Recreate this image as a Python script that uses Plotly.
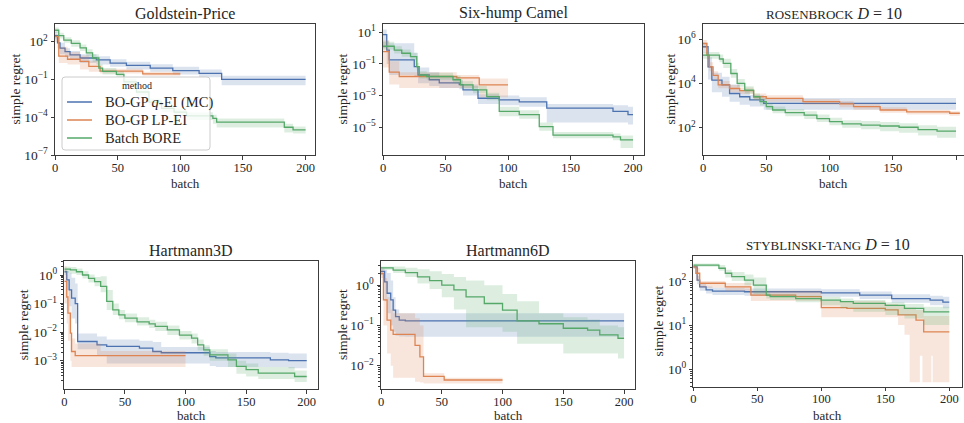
import plotly.graph_objects as go

# ---------------- data (step breakpoints) ----------------
# Goldstein-Price
gp_qei_x = [0, 2, 4, 8, 12, 20, 33, 44, 57, 76, 94, 115, 133, 200]
gp_qei_y = [3e2, 8e1, 3e1, 1.6e1, 9, 5, 3.6, 2, 1.3, 0.8, 0.5, 0.3, 0.1, 0.1]
gp_qei_lo = [1.5e2, 3e1, 1e1, 6, 4, 2, 1.5, 1, 0.6, 0.4, 0.25, 0.15, 0.035, 0.035]
gp_qei_hi = [6e2, 2e2, 8e1, 3e1, 1.8e1, 1e1, 7, 4, 2.5, 1.6, 1, 0.6, 0.2, 0.2]
gp_lpei_x = [0, 3, 10, 20, 27, 36, 70, 100]
gp_lpei_y = [2.5e2, 7, 4, 2.7, 1.1, 0.45, 0.28, 0.28]
gp_lpei_lo = [1e2, 2, 1.5, 0.6, 0.4, 0.3, 0.2, 0.2]
gp_lpei_hi = [4e2, 4e1, 1.5e1, 8, 3, 0.7, 0.4, 0.4]
gp_bore_x = [0, 3, 7, 13, 20, 25, 30, 35, 38, 49, 55, 65, 75, 85, 95, 105, 126, 129, 183, 190, 200]
gp_bore_y = [8e2, 3e2, 1.3e2, 7.4e1, 3.2e1, 1.3e1, 5, 0.8, 0.44, 0.25, 0.063, 0.01, 1.6e-3, 5e-4, 2.5e-4, 1.3e-4, 8e-5, 4e-5, 1.6e-5, 1e-5, 1e-5]
gp_bore_lo = [5e2, 1.8e2, 8e1, 4e1, 1.8e1, 7, 2.5, 0.4, 0.25, 0.14, 0.03, 5e-3, 8e-4, 2.5e-4, 1.3e-4, 6e-5, 3e-5, 1.5e-5, 6e-6, 5e-6, 5e-6]
gp_bore_hi = [1.3e3, 5e2, 2.2e2, 1.3e2, 6e1, 2.5e1, 1e1, 1.6, 0.8, 0.45, 0.12, 0.02, 3e-3, 1e-3, 5e-4, 2.5e-4, 1.6e-4, 8e-5, 3e-5, 1.8e-5, 1.8e-5]

# Six-hump Camel
sc_qei_x = [0, 3, 5, 25, 28, 37, 45, 61, 64, 76, 93, 109, 131, 184, 196, 200]
sc_qei_y = [7, 0.75, 0.18, 0.068, 0.02, 0.01, 6.3e-3, 5e-3, 2.3e-3, 6.8e-4, 5.4e-4, 4e-4, 1.6e-4, 1e-4, 6.3e-5, 6.3e-5]
sc_qei_lo = [1, 0.1, 0.02, 0.015, 6e-3, 4e-3, 3e-3, 2.5e-3, 1e-3, 3e-4, 2.5e-4, 2e-4, 2e-5, 2e-5, 1.5e-5, 1.5e-5]
sc_qei_hi = [1.5e1, 3, 2, 0.5, 0.06, 0.03, 0.015, 0.01, 5e-3, 1.2e-3, 1e-3, 8e-4, 3e-4, 2.5e-4, 2e-4, 2e-4]
sc_lpei_x = [0, 5, 13, 59, 77, 100]
sc_lpei_y = [0.6, 0.03, 0.016, 0.013, 4.7e-3, 4.7e-3]
sc_lpei_lo = [0.06, 5e-3, 3e-3, 3e-3, 8e-4, 8e-4]
sc_lpei_hi = [3, 0.15, 0.03, 0.02, 0.012, 0.012]
sc_bore_x = [0, 9, 15, 22, 27, 29, 35, 56, 62, 72, 83, 93, 109, 125, 136, 184, 190, 200]
sc_bore_y = [1.3, 0.75, 0.47, 0.29, 0.068, 0.02, 0.016, 0.01, 4.7e-3, 2.3e-3, 8.7e-4, 1e-4, 6.3e-5, 1.1e-5, 3.2e-6, 2.5e-6, 1.6e-6, 1.6e-6]
sc_bore_lo = [0.8, 0.45, 0.28, 0.17, 0.04, 0.012, 0.01, 6e-3, 2.8e-3, 1.4e-3, 5e-4, 5e-5, 3.5e-5, 6e-6, 2e-6, 1.5e-6, 5e-7, 4e-7]
sc_bore_hi = [2.5, 1.3, 0.8, 0.5, 0.12, 0.035, 0.028, 0.018, 8e-3, 4e-3, 1.5e-3, 2e-4, 1.2e-4, 2e-5, 5e-6, 4e-6, 3e-6, 3e-6]

# Rosenbrock D=10
rb_qei_x = [0, 4, 7, 15, 21, 29, 37, 48, 200]
rb_qei_y = [4.5e5, 5.6e4, 1.4e4, 8.5e3, 3.5e3, 2.5e3, 1.8e3, 1.26e3, 1.26e3]
rb_qei_lo = [2.5e5, 1.5e4, 4e3, 2.5e3, 1.5e3, 1.1e3, 9e2, 6.5e2, 6.5e2]
rb_qei_hi = [7e5, 1.5e5, 3e4, 2e4, 9e3, 5e3, 3e3, 2.2e3, 2.2e3]
rb_lpei_x = [0, 3, 5, 8, 12, 21, 29, 40, 50, 79, 108, 119, 140, 161, 195, 203]
rb_lpei_y = [6.3e5, 1.9e5, 5.6e4, 2.3e4, 8.5e3, 5.9e3, 4.7e3, 2.5e3, 2.1e3, 1.5e3, 1.2e3, 9e2, 6.3e2, 5.2e2, 4.5e2, 4.5e2]
rb_lpei_lo = [4e5, 1.2e5, 3.5e4, 1.5e4, 6e3, 4e3, 3.3e3, 1.8e3, 1.5e3, 1.1e3, 8.5e2, 6.5e2, 4.7e2, 4e2, 3.5e2, 3.5e2]
rb_lpei_hi = [9e5, 3e5, 9e4, 3.5e4, 1.3e4, 8.5e3, 6.5e3, 3.5e3, 2.9e3, 2e3, 1.6e3, 1.2e3, 8.5e2, 6.5e2, 5.5e2, 5.5e2]
rb_bore_x = [0, 13, 16, 22, 27, 33, 40, 45, 50, 55, 65, 80, 90, 100, 110, 125, 140, 155, 170, 185, 200]
rb_bore_y = [1.9e5, 1.26e5, 8e4, 2.8e4, 1e4, 5e3, 2.5e3, 1.5e3, 9e2, 6.3e2, 4.8e2, 3.7e2, 2.6e2, 1.9e2, 1.5e2, 1.3e2, 1.2e2, 1.05e2, 8.3e1, 7e1, 7e1]
rb_bore_lo = [1.3e5, 9e4, 5e4, 1.8e4, 7e3, 3.5e3, 1.8e3, 1e3, 6.5e2, 4.5e2, 3.3e2, 2.5e2, 1.8e2, 1.3e2, 1e2, 8.5e1, 7e1, 6e1, 4.5e1, 3.5e1, 3e1]
rb_bore_hi = [2.6e5, 2e5, 1.3e5, 4.5e4, 1.6e4, 7.5e3, 3.5e3, 2.2e3, 1.3e3, 9e2, 7e2, 5.5e2, 4e2, 2.8e2, 2.2e2, 2e2, 1.8e2, 1.6e2, 1.3e2, 1.1e2, 1.1e2]

# Hartmann3D
h3_qei_x = [0, 2, 4, 6, 9, 11, 27, 35, 62, 73, 80, 120, 125, 170, 185, 200]
h3_qei_y = [1.3, 0.68, 0.3, 0.155, 0.1, 4.7e-3, 3.6e-3, 3.2e-3, 2.75e-3, 2.1e-3, 1.9e-3, 1.4e-3, 1.26e-3, 1.07e-3, 1e-3, 1e-3]
h3_qei_lo = [1, 0.3, 0.08, 0.03, 0.02, 2.5e-3, 1.5e-3, 8e-4, 8e-4, 8e-4, 8e-4, 6.5e-4, 6e-4, 6e-4, 5.5e-4, 5.5e-4]
h3_qei_hi = [1.6, 1.4, 1.2, 0.8, 0.5, 9e-3, 7e-3, 5.5e-3, 5e-3, 4.5e-3, 3e-3, 2.2e-3, 2e-3, 1.9e-3, 1.8e-3, 1.8e-3]
h3_lpei_x = [0, 2, 3, 5, 6, 9, 30, 100]
h3_lpei_y = [0.6, 0.17, 0.046, 9.3e-3, 2.1e-3, 1.5e-3, 1.5e-3, 1.5e-3]
h3_lpei_lo = [0.1, 0.02, 5e-3, 1e-3, 6e-4, 6e-4, 6e-4, 6e-4]
h3_lpei_hi = [2, 1, 0.3, 0.05, 6e-3, 4e-3, 2.2e-3, 2.2e-3]
h3_bore_x = [0, 5, 10, 15, 20, 25, 30, 35, 40, 45, 50, 60, 70, 75, 85, 95, 105, 110, 115, 120, 135, 142, 150, 160, 190, 200]
h3_bore_y = [1.6, 1.5, 1.3, 1.0, 0.76, 0.59, 0.4, 0.12, 0.06, 0.04, 0.031, 0.023, 0.0195, 0.016, 0.012, 7.9e-3, 6.2e-3, 3.6e-3, 2.4e-3, 1.6e-3, 1.07e-3, 6.3e-4, 4.9e-4, 3.7e-4, 2.8e-4, 2.8e-4]
h3_bore_lo = [1.2, 1.1, 1.0, 0.75, 0.55, 0.4, 0.25, 0.06, 0.04, 0.028, 0.022, 0.017, 0.014, 0.011, 8e-3, 5.5e-3, 4e-3, 2.3e-3, 1.5e-3, 1e-3, 6e-4, 3.5e-4, 2.8e-4, 2.3e-4, 1.8e-4, 1.6e-4]
h3_bore_hi = [2, 1.9, 1.7, 1.35, 1.05, 0.85, 0.9, 0.3, 0.1, 0.06, 0.045, 0.033, 0.027, 0.023, 0.017, 0.011, 9e-3, 5.5e-3, 3.5e-3, 2.5e-3, 1.8e-3, 1e-3, 8e-4, 6e-4, 4.5e-4, 4.5e-4]

# Hartmann6D
h6_qei_x = [0, 3, 5, 8, 10, 12, 15, 20, 200]
h6_qei_y = [2.2, 1.2, 0.63, 0.43, 0.24, 0.166, 0.135, 0.129, 0.129]
h6_qei_lo = [1.8, 0.4, 0.2, 0.1, 0.07, 0.055, 0.053, 0.052, 0.052]
h6_qei_hi = [2.6, 2.4, 2, 1.3, 0.5, 0.25, 0.2, 0.2, 0.2]
h6_lpei_x = [0, 2, 5, 8, 10, 28, 32, 35, 52, 100]
h6_lpei_y = [1.95, 0.43, 0.135, 0.076, 0.06, 0.032, 0.0166, 5.4e-3, 4.4e-3, 4.4e-3]
h6_lpei_lo = [1.5, 0.1, 0.02, 0.01, 5e-3, 4e-3, 3.8e-3, 3.6e-3, 3.6e-3, 3.6e-3]
h6_lpei_hi = [2.5, 1.5, 0.5, 0.25, 0.2, 0.15, 0.1, 6.5e-3, 5e-3, 5e-3]
h6_bore_x = [0, 10, 20, 30, 40, 50, 60, 70, 85, 100, 112, 130, 150, 170, 180, 195, 200]
h6_bore_y = [2.7, 2.35, 2.05, 1.6, 1.3, 1.0, 0.76, 0.51, 0.35, 0.24, 0.13, 0.11, 0.085, 0.076, 0.058, 0.048, 0.048]
h6_bore_lo = [2.4, 2.0, 1.6, 1.1, 0.8, 0.5, 0.25, 0.09, 0.09, 0.07, 0.035, 0.035, 0.02, 0.02, 0.02, 0.015, 0.015]
h6_bore_hi = [2.9, 2.9, 2.7, 2.5, 2.2, 1.9, 1.6, 1.3, 1.0, 0.6, 0.4, 0.2, 0.16, 0.14, 0.1, 0.09, 0.09]

# Styblinski-Tang D=10
st_qei_x = [0, 3, 5, 10, 15, 40, 100, 130, 155, 185, 195, 200]
st_qei_y = [2.1e2, 1.05e2, 7.4e1, 6.3e1, 5.9e1, 5.7e1, 5.4e1, 4.8e1, 4e1, 3.7e1, 3.3e1, 3.3e1]
st_qei_lo = [1.9e2, 8.5e1, 6e1, 5.2e1, 4.8e1, 4.6e1, 4.4e1, 3.9e1, 3.2e1, 2.8e1, 2.4e1, 2.4e1]
st_qei_hi = [2.3e2, 1.3e2, 9e1, 7.5e1, 7e1, 6.8e1, 6.5e1, 5.8e1, 5e1, 4.6e1, 4.4e1, 4.4e1]
st_lpei_x = [0, 2, 5, 25, 45, 80, 100, 120, 150, 160, 165, 169, 174, 177, 179, 180, 186, 187, 200]
st_lpei_y = [2.1e2, 1.5e2, 8.9e1, 7.4e1, 4.8e1, 4.4e1, 2.5e1, 2.4e1, 2.2e1, 1.7e1, 1.7e1, 1.7e1, 1.3e1, 1.3e1, 1.3e1, 7, 7, 7, 7]
st_lpei_lo = [1.9e2, 1e2, 7e1, 6e1, 3.5e1, 3.5e1, 1.5e1, 1.5e1, 1.5e1, 1e1, 6, 0.5, 0.5, 2, 0.5, 0.5, 2, 0.5, 0.5]
st_lpei_hi = [2.3e2, 2e2, 1e2, 9e1, 6e1, 6e1, 3.5e1, 3.5e1, 3e1, 2.7e1, 2.5e1, 2.5e1, 2.2e1, 2.2e1, 2.2e1, 1.6e1, 1.6e1, 1.6e1, 1.6e1]
st_bore_x = [0, 20, 25, 30, 40, 47, 57, 60, 80, 100, 115, 125, 150, 165, 180, 200]
st_bore_y = [2.3e2, 1.95e2, 1.5e2, 1.26e2, 1.05e2, 8.1e1, 4.8e1, 4.4e1, 4e1, 3.7e1, 3.4e1, 3.1e1, 2.8e1, 2.4e1, 2e1, 2e1]
st_bore_lo = [2.1e2, 1.7e2, 1.2e2, 1e2, 8e1, 5e1, 4e1, 3.7e1, 3.3e1, 2.8e1, 2.4e1, 2e1, 1.7e1, 1.4e1, 1e1, 1e1]
st_bore_hi = [2.5e2, 2.3e2, 1.8e2, 1.6e2, 1.4e2, 1.2e2, 5.5e1, 5e1, 4.7e1, 4.4e1, 4e1, 3.7e1, 3.3e1, 3e1, 2.6e1, 2.6e1]

method_names = ["BO-GP <i>q</i>-EI (MC)", "BO-GP LP-EI", "Batch BORE"]
legend_title = "method"
titles = [
    "Goldstein-Price",
    "Six-hump Camel",
    "<span style='font-size:13px'>ROSENBROCK</span> <i>D</i> = 10",
    "Hartmann3D",
    "Hartmann6D",
    "<span style='font-size:13px'>STYBLINSKI-TANG</span> <i>D</i> = 10",
]
x_ticks = [0, 50, 100, 150, 200]
y_ticks = [
    ([1e2, 1e-1, 1e-4, 1e-7], ["2", "−1", "−4", "−7"]),
    ([1e1, 1e-1, 1e-3, 1e-5], ["1", "−1", "−3", "−5"]),
    ([1e6, 1e4, 1e2], ["6", "4", "2"]),
    ([1, 1e-1, 1e-2, 1e-3], ["0", "−1", "−2", "−3"]),
    ([1, 1e-1, 1e-2], ["0", "−1", "−2"]),
    ([1e2, 1e1, 1], ["2", "1", "0"]),
]

# ---------------- style / layout ----------------
W, H = 964, 423
FONT = "Liberation Serif"
COLORS = ["#4c72b0", "#dd8452", "#55a868"]
FILLS = ["rgba(76,114,176,0.2)", "rgba(221,132,82,0.2)", "rgba(85,168,104,0.2)"]
AXC = "#3c3c3c"
TXT = "#262626"

# pixel boxes: (left, right, top, bottom), x range max, log y range, minor ticks
boxes = [
    (55, 315, 24, 155, 207.5, [-7, 3.4], False),
    (383, 644, 24, 155, 208.8, [-6.75, 1.52], False),
    (703, 964, 24, 155, 206.3, [0.77, 6.68], False),
    (64.3, 318, 261, 389, 209.3, [-3.99, 0.49], True),
    (381, 635, 261, 389, 209, [-2.58, 0.6], True),
    (693.3, 961.7, 255.7, 386.7, 209.7, [-0.4, 2.575], True),
]
ylabel_offsets = [40, 41, 33, 41, 39, 35]
title_y = [13, 13, 13, 250.7, 250.7, 245]
batch_y = [183.5, 183.5, 183.5, 415.5, 415.5, 415.5]

data = [
    [(gp_qei_x, gp_qei_y, gp_qei_lo, gp_qei_hi), (gp_lpei_x, gp_lpei_y, gp_lpei_lo, gp_lpei_hi), (gp_bore_x, gp_bore_y, gp_bore_lo, gp_bore_hi)],
    [(sc_qei_x, sc_qei_y, sc_qei_lo, sc_qei_hi), (sc_lpei_x, sc_lpei_y, sc_lpei_lo, sc_lpei_hi), (sc_bore_x, sc_bore_y, sc_bore_lo, sc_bore_hi)],
    [(rb_qei_x, rb_qei_y, rb_qei_lo, rb_qei_hi), (rb_lpei_x, rb_lpei_y, rb_lpei_lo, rb_lpei_hi), (rb_bore_x, rb_bore_y, rb_bore_lo, rb_bore_hi)],
    [(h3_qei_x, h3_qei_y, h3_qei_lo, h3_qei_hi), (h3_lpei_x, h3_lpei_y, h3_lpei_lo, h3_lpei_hi), (h3_bore_x, h3_bore_y, h3_bore_lo, h3_bore_hi)],
    [(h6_qei_x, h6_qei_y, h6_qei_lo, h6_qei_hi), (h6_lpei_x, h6_lpei_y, h6_lpei_lo, h6_lpei_hi), (h6_bore_x, h6_bore_y, h6_bore_lo, h6_bore_hi)],
    [(st_qei_x, st_qei_y, st_qei_lo, st_qei_hi), (st_lpei_x, st_lpei_y, st_lpei_lo, st_lpei_hi), (st_bore_x, st_bore_y, st_bore_lo, st_bore_hi)],
]


def px(x):
    return x / W


def py(y):
    return 1 - y / H


fig = go.Figure()
layout = dict(
    width=W, height=H, margin=dict(l=0, r=0, t=0, b=0),
    plot_bgcolor="white", paper_bgcolor="white",
    font=dict(family=FONT, color=TXT, size=12),
    showlegend=False,
)
annotations = []
shapes = []

for i, (box, series) in enumerate(zip(boxes, data)):
    l, r, t, b, xmax, yr, minor = box
    n = i + 1
    xa, ya = ("x", "y") if n == 1 else (f"x{n}", f"y{n}")
    xkey, ykey = ("xaxis", "yaxis") if n == 1 else (f"xaxis{n}", f"yaxis{n}")
    for k, (sx, sy, slo, shi) in enumerate(series):
        fig.add_trace(go.Scatter(x=sx, y=slo, xaxis=xa, yaxis=ya, mode="lines",
                                 line=dict(width=0, shape="hv", color=COLORS[k]),
                                 hoverinfo="skip"))
        fig.add_trace(go.Scatter(x=sx, y=shi, xaxis=xa, yaxis=ya, mode="lines",
                                 line=dict(width=0, shape="hv", color=COLORS[k]),
                                 fill="tonexty", fillcolor=FILLS[k], hoverinfo="skip"))
        fig.add_trace(go.Scatter(x=sx, y=sy, xaxis=xa, yaxis=ya, mode="lines",
                                 line=dict(width=1.3, shape="hv", color=COLORS[k]),
                                 name=method_names[k]))
    tv, tt = y_ticks[i]
    yaxis = dict(
        type="log", range=yr, domain=[py(b), py(t)], anchor=xa,
        tickmode="array", tickvals=tv, ticktext=[f"10<sup>{s}</sup>" for s in tt],
        showline=True, mirror=True, linecolor=AXC, linewidth=1,
        ticks="outside", ticklen=3.5, tickwidth=1, tickcolor=AXC,
        showgrid=False, zeroline=False, automargin=False,
        tickfont=dict(family=FONT, size=13.5, color=TXT),
    )
    if minor:
        lo_dec = int(yr[0]) - 1
        hi_dec = int(yr[1]) + 1
        mv = [m * 10.0 ** d for d in range(lo_dec, hi_dec + 1) for m in range(2, 10)]
        yaxis["minor"] = dict(tickmode="array", tickvals=mv, ticks="outside", ticklen=2,
                              tickwidth=0.8, tickcolor=AXC, showgrid=False)
    layout[ykey] = yaxis
    layout[xkey] = dict(
        range=[0, xmax], domain=[px(l), px(r)], anchor=ya,
        tickmode="array", tickvals=x_ticks,
        showline=True, mirror=True, linecolor=AXC, linewidth=1,
        ticks="outside", ticklen=3.5, tickwidth=1, tickcolor=AXC,
        ticklabelstandoff=-3,
        showgrid=False, zeroline=False, automargin=False,
        tickfont=dict(family=FONT, size=12.5, color=TXT),
    )
    cx = (l + r) / 2
    annotations.append(dict(text=titles[i], x=px(cx), y=py(title_y[i]), xref="paper", yref="paper",
                            xanchor="center", yanchor="middle", showarrow=False,
                            font=dict(family=FONT, size=16, color=TXT)))
    annotations.append(dict(text="batch", x=px(cx), y=py(batch_y[i]), xref="paper", yref="paper",
                            xanchor="center", yanchor="middle", showarrow=False,
                            font=dict(family=FONT, size=13, color=TXT)))
    annotations.append(dict(text="simple regret", x=px(l - ylabel_offsets[i]), y=py((t + b) / 2),
                            xref="paper", yref="paper", xanchor="center", yanchor="middle",
                            textangle=-90, showarrow=False,
                            font=dict(family=FONT, size=13.5, color=TXT)))

# ---- legend drawn inside the Goldstein-Price panel ----
lx0, lx1, ly0, ly1, rad = 62, 210, 77, 150, 3
path = (f"M {px(lx0 + rad)} {py(ly0)} L {px(lx1 - rad)} {py(ly0)} "
        f"Q {px(lx1)} {py(ly0)} {px(lx1)} {py(ly0 + rad)} L {px(lx1)} {py(ly1 - rad)} "
        f"Q {px(lx1)} {py(ly1)} {px(lx1 - rad)} {py(ly1)} L {px(lx0 + rad)} {py(ly1)} "
        f"Q {px(lx0)} {py(ly1)} {px(lx0)} {py(ly1 - rad)} L {px(lx0)} {py(ly0 + rad)} "
        f"Q {px(lx0)} {py(ly0)} {px(lx0 + rad)} {py(ly0)} Z")
shapes.append(dict(type="path", path=path, xref="paper", yref="paper", layer="above",
                   fillcolor="rgba(255,255,255,0.8)", line=dict(color="#cccccc", width=1)))
annotations.append(dict(text=legend_title, x=px(137), y=py(85.5), xref="paper", yref="paper",
                        xanchor="center", yanchor="middle", showarrow=False,
                        font=dict(family=FONT, size=10, color=TXT)))
for k, (name, yy) in enumerate(zip(method_names, [102, 120, 138])):
    shapes.append(dict(type="line", x0=px(67), x1=px(92), y0=py(yy), y1=py(yy),
                       xref="paper", yref="paper", layer="above",
                       line=dict(color=COLORS[k], width=1.5)))
    annotations.append(dict(text=name, x=px(103), y=py(yy), xref="paper", yref="paper",
                            xanchor="left", yanchor="middle", showarrow=False,
                            font=dict(family=FONT, size=14.5, color=TXT)))

layout["annotations"] = annotations
layout["shapes"] = shapes
fig.update_layout(**layout)
fig.write_html("out.html", config={"displayModeBar": False},
               post_script="document.body.style.margin='0px';document.body.style.overflow='hidden';")
